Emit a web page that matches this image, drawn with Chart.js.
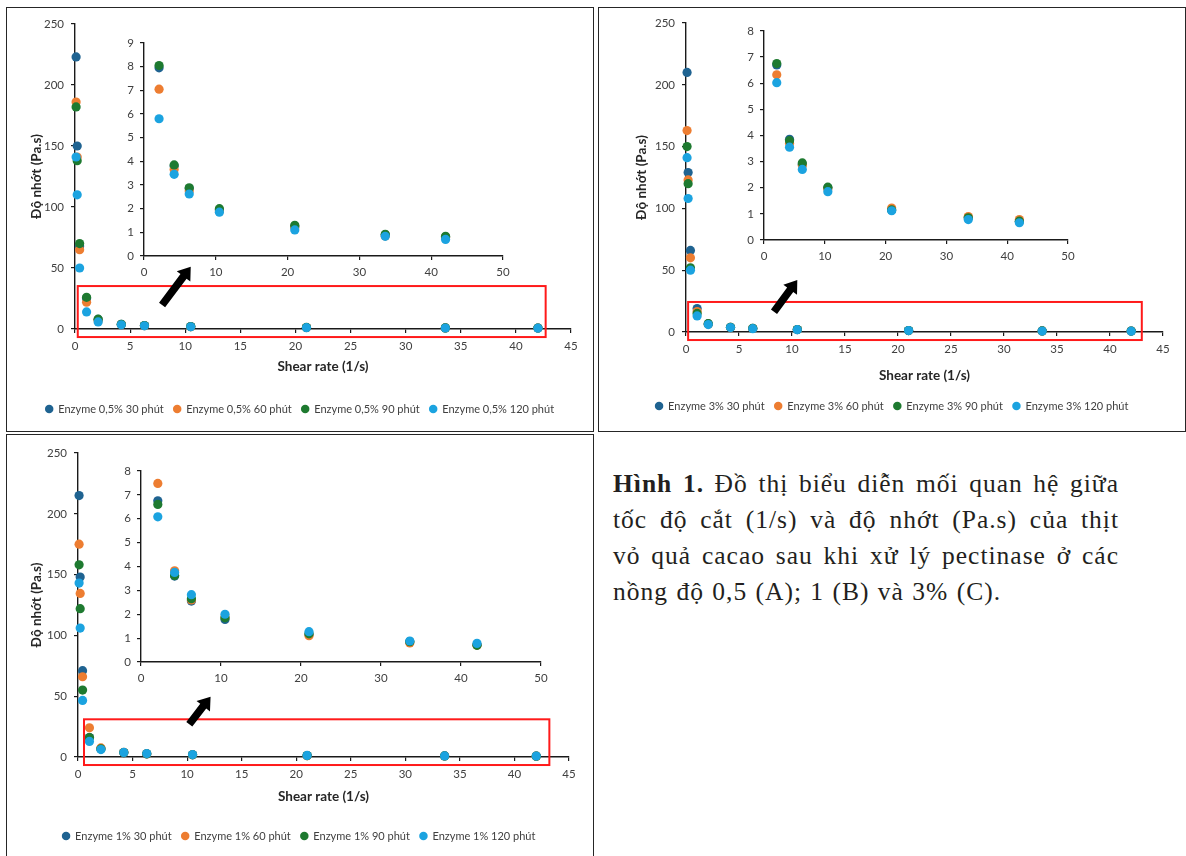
<!DOCTYPE html>
<html>
<head>
<meta charset="utf-8">
<script src="https://cdn.jsdelivr.net/npm/chart.js@4.4.1/dist/chart.umd.min.js"></script>
<style>
  html, body { margin: 0; padding: 0; }
  body { width: 1186px; height: 856px; background: #fff; position: relative; overflow: hidden; }
  .panel { position: absolute; box-sizing: border-box; border: 1.6px solid #262626; }
  .wrap { position: absolute; }
  .wrap canvas { display: block; }
  .cap { position: absolute; left: 613px; top: 466px; width: 506px; font-family: "Liberation Serif", "DejaVu Serif", serif; font-size: 25.5px; line-height: 36px; letter-spacing: 1px; word-spacing: 1px; color: #231f20; }
  .cap .l { text-align: justify; text-align-last: justify; white-space: nowrap; }
  .cap .l.last { text-align: left; text-align-last: left; }
</style>
</head>
<body>
<div class="panel" style="left:6px;top:7px;width:588px;height:425px"></div>
<div class="panel" style="left:598px;top:7px;width:588px;height:425px"></div>
<div class="panel" style="left:6px;top:434px;width:588px;height:440px"></div>

<div class="wrap" style="left:8px;top:9px"><canvas id="mainA" width="584" height="421"></canvas></div>
<div class="wrap" style="left:600px;top:9px"><canvas id="mainB" width="584" height="421"></canvas></div>
<div class="wrap" style="left:8px;top:436px"><canvas id="mainC" width="584" height="420"></canvas></div>
<div class="wrap" style="left:110px;top:30px"><canvas id="insetA" width="420" height="250"></canvas></div>
<div class="wrap" style="left:730px;top:18px"><canvas id="insetB" width="370" height="250"></canvas></div>
<div class="wrap" style="left:107px;top:458px"><canvas id="insetC" width="460" height="230"></canvas></div>

<div class="cap">
  <div class="l"><b>Hình 1.</b> Đồ thị biểu diễn mối quan hệ giữa</div>
  <div class="l">tốc độ cắt (1/s) và độ nhớt (Pa.s) của thịt</div>
  <div class="l">vỏ quả cacao sau khi xử lý pectinase ở các</div>
  <div class="l last">nồng độ 0,5 (A); 1 (B) và 3% (C).</div>
</div>

<script>
// ---------------- DATA ----------------
const shearRate = [0.1, 0.2, 0.42, 1.05, 2.1, 4.2, 6.3, 10.5, 21, 33.6, 42];

// Panel A: Enzyme 0,5%
const labelsA = ['Enzyme 0,5% 30 phút', 'Enzyme 0,5% 60 phút', 'Enzyme 0,5% 90 phút', 'Enzyme 0,5% 120 phút'];
const viscA_30  = [223, 150, 68, 25, 7.95, 3.8, 2.85, 1.95, 1.25, 0.9, 0.8];
const viscA_60  = [186, 141, 65, 22, 7.05, 3.65, 2.75, 1.9, 1.2, 0.85, 0.78];
const viscA_90  = [182, 138, 70, 26, 8.05, 3.85, 2.88, 2.0, 1.3, 0.92, 0.83];
const viscA_120 = [141, 110, 50, 14, 5.8, 3.45, 2.62, 1.85, 1.1, 0.83, 0.7];

// Panel B: Enzyme 3%
const labelsB = ['Enzyme 3% 30 phút', 'Enzyme 3% 60 phút', 'Enzyme 3% 90 phút', 'Enzyme 3% 120 phút'];
const viscB_30  = [210, 129, 66, 19, 6.7, 3.85, 2.9, 2.0, 1.15, 0.85, 0.72];
const viscB_60  = [163, 123, 60, 16.5, 6.32, 3.7, 2.85, 1.95, 1.22, 0.9, 0.78];
const viscB_90  = [150, 120, 52, 15, 6.75, 3.8, 2.95, 2.02, 1.15, 0.85, 0.72];
const viscB_120 = [141, 108, 50, 13, 6.02, 3.55, 2.7, 1.85, 1.12, 0.78, 0.66];

// Panel C: Enzyme 1%
const labelsC = ['Enzyme 1% 30 phút', 'Enzyme 1% 60 phút', 'Enzyme 1% 90 phút', 'Enzyme 1% 120 phút'];
const viscC_30  = [215, 148, 71, 16, 6.75, 3.6, 2.55, 1.78, 1.15, 0.85, 0.72];
const viscC_60  = [175, 134.5, 66, 24, 7.48, 3.82, 2.6, 1.88, 1.1, 0.8, 0.7];
const viscC_90  = [158, 122, 55, 16, 6.6, 3.62, 2.65, 1.85, 1.18, 0.85, 0.7];
const viscC_120 = [143, 106, 46.5, 12.8, 6.08, 3.75, 2.82, 2.0, 1.27, 0.88, 0.78];

// axis ticks
const mainXTicks = { min: 0, max: 45, step: 5 };
const mainYTicks = { min: 0, max: 250, step: 50 };
const insetXTicks = { min: 0, max: 50, step: 10 };
const insetYMaxA = 9, insetYMaxB = 8, insetYMaxC = 8;
const insetMinShear = 2;

const xTitle = 'Shear rate (1/s)';
const yTitle = 'Độ nhớt (Pa.s)';

// ---------------- STYLE / LAYOUT ----------------
const seriesColors = ['#1F6391', '#ED7D31', '#1E7A30', '#1BA3E0'];
const tickFont = { family: 'Lato', size: 11.5 };
const titleFont = { family: 'Lato', size: 13.5, weight: 'bold' };
const textColor = '#404040';
const axisColor = '#1a1a1a';

// zoom box and arrow annotations, in data units of each main chart
const marksA = { box: { x0: 0.25, x1: 42.7, y0: -6.6, y1: 35.2 }, arrow: { x0: 7.9, y0: 19.7, x1: 10.5, y1: 51 } };
const marksB = { box: { x0: 0.2, x1: 43.0, y0: -6.5, y1: 24.3 }, arrow: { x0: 8.3, y0: 16.4, x1: 10.5, y1: 42 } };
const marksC = { box: { x0: 0.55, x1: 43.2, y0: -6.6, y1: 31 }, arrow: { x0: 10.2, y0: 26.9, x1: 12.15, y1: 49.6 } };

const layoutA = { H: 421, W: 584, L: 67, T: 15, R: 563, B: 320, pl: 20.8, yTitleX: 28, legendY: 400, xTitleY: 358 };
const layoutB = { H: 421, W: 584, L: 86, T: 14, R: 563, B: 323, pl: 21, yTitleX: 41.7, legendY: 397, xTitleY: 367 };
const layoutC = { H: 420, W: 584, L: 70, T: 17, R: 561, B: 321, pl: 21, yTitleX: 29, legendY: 400, xTitleY: 361 };

const insetLayoutA = { W: 420, H: 250, L: 34, T: 13, R: 393, B: 226 };
const insetLayoutB = { W: 370, H: 250, L: 34, T: 11, R: 338, B: 222 };
const insetLayoutC = { W: 460, H: 230, L: 34, T: 13, R: 434, B: 204 };

// ---------------- BUILD ----------------
function buildDatasets(labels, series, minX) {
  return series.map((vals, k) => ({
    label: labels[k],
    data: shearRate.map((x, i) => ({ x: x, y: vals[i] })).filter(p => p.x >= minX),
    backgroundColor: seriesColors[k],
    borderColor: seriesColors[k],
    borderWidth: 0,
    pointRadius: 4.6,
    pointHoverRadius: 4.6,
    pointStyle: 'circle',
    order: series.length - 1 - k,
    clip: false
  }));
}

const marksPlugin = {
  id: 'marks',
  afterDraw(chart, args, opts) {
    const ctx = chart.ctx, xs = chart.scales.x, ys = chart.scales.y;
    if (opts && opts.box) {
      const b = opts.box;
      const x0 = xs.getPixelForValue(b.x0), x1 = xs.getPixelForValue(b.x1);
      const y0 = ys.getPixelForValue(b.y0), y1 = ys.getPixelForValue(b.y1);
      ctx.save();
      ctx.strokeStyle = '#FF1A1A';
      ctx.lineWidth = 2;
      ctx.strokeRect(x0, y1, x1 - x0, y0 - y1);
      ctx.restore();
    }
    if (opts && opts.arrow) {
      const a = opts.arrow;
      const tx = xs.getPixelForValue(a.x0), ty = ys.getPixelForValue(a.y0);
      const hx = xs.getPixelForValue(a.x1), hy = ys.getPixelForValue(a.y1);
      const dx = hx - tx, dy = hy - ty, len = Math.hypot(dx, dy);
      const ux = dx / len, uy = dy / len, nx = -uy, ny = ux;
      const shaft = 3.8, headW = 8.5, headL = 12;
      const bx = hx - ux * headL, by = hy - uy * headL;
      ctx.save();
      ctx.fillStyle = '#000';
      ctx.beginPath();
      ctx.moveTo(tx + nx * shaft, ty + ny * shaft);
      ctx.lineTo(bx + nx * shaft, by + ny * shaft);
      ctx.lineTo(bx + nx * headW, by + ny * headW);
      ctx.lineTo(hx, hy);
      ctx.lineTo(bx - nx * headW, by - ny * headW);
      ctx.lineTo(bx - nx * shaft, by - ny * shaft);
      ctx.lineTo(tx - nx * shaft, ty - ny * shaft);
      ctx.closePath();
      ctx.fill();
      ctx.restore();
    }
  }
};

function axisCommon() {
  return {
    type: 'linear',
    grid: { drawOnChartArea: false, drawTicks: true, tickLength: 4, color: axisColor, lineWidth: 1.2 },
    border: { display: true, color: axisColor, width: 1.4 }
  };
}

function makeMain(id, labels, series, g, marks) {
  const pr = g.W - g.R;
  const legendFont = 11, legendPad = 10;
  const pb = g.H - 10 - legendFont / 2 - g.legendY;
  const LH = legendFont + legendPad + 10;
  const XH = g.H - pb - LH - g.B;
  const titleLH = titleFont.size * 1.2;
  const xTitlePadB = g.B + XH - titleLH / 2 - g.xTitleY;
  const yTitlePadT = Math.max(0, g.yTitleX - g.pl - titleLH / 2);
  const yW = g.L - g.pl;

  const xAxis = Object.assign(axisCommon(), {
    min: mainXTicks.min, max: mainXTicks.max,
    ticks: { stepSize: mainXTicks.step, font: tickFont, color: textColor, padding: 6 },
    title: { display: true, text: xTitle, font: titleFont, color: '#262626', padding: { top: 0, bottom: xTitlePadB } },
    afterFit(s) { s.height = XH; }
  });
  const yAxis = Object.assign(axisCommon(), {
    min: mainYTicks.min, max: mainYTicks.max,
    ticks: { stepSize: mainYTicks.step, font: tickFont, color: textColor, padding: 7 },
    title: { display: true, text: yTitle, font: titleFont, color: '#262626', padding: { top: yTitlePadT, bottom: 0 } },
    afterFit(s) { s.width = yW; }
  });

  return new Chart(document.getElementById(id), {
    type: 'scatter',
    data: { datasets: buildDatasets(labels, series, -Infinity) },
    options: {
      responsive: false, animation: false, devicePixelRatio: 1,
      layout: { padding: { left: g.pl, right: pr, top: g.T, bottom: pb } },
      scales: { x: xAxis, y: yAxis },
      plugins: {
        legend: {
          position: 'bottom',
          labels: {
            usePointStyle: true, pointStyle: 'circle', boxWidth: 7, boxHeight: 6,
            padding: legendPad, font: { family: 'Lato', size: legendFont }, color: textColor,
            sort: (a, b) => a.datasetIndex - b.datasetIndex
          }
        },
        tooltip: { enabled: false },
        marks: marks
      }
    },
    plugins: [marksPlugin]
  });
}

function makeInset(id, labels, series, g, yMax) {
  const XH = g.H - g.B;
  const xAxis = Object.assign(axisCommon(), {
    min: insetXTicks.min, max: insetXTicks.max,
    ticks: { stepSize: insetXTicks.step, font: tickFont, color: textColor, padding: 5 },
    afterFit(s) { s.height = XH; }
  });
  const yAxis = Object.assign(axisCommon(), {
    min: 0, max: yMax,
    ticks: { stepSize: 1, font: tickFont, color: textColor, padding: 6 },
    afterFit(s) { s.width = g.L; }
  });
  return new Chart(document.getElementById(id), {
    type: 'scatter',
    data: { datasets: buildDatasets(labels, series, insetMinShear) },
    options: {
      responsive: false, animation: false, devicePixelRatio: 1,
      layout: { padding: { left: 0, right: g.W - g.R, top: g.T, bottom: 0 } },
      scales: { x: xAxis, y: yAxis },
      plugins: { legend: { display: false }, tooltip: { enabled: false } }
    }
  });
}

const seriesA = [viscA_30, viscA_60, viscA_90, viscA_120];
const seriesB = [viscB_30, viscB_60, viscB_90, viscB_120];
const seriesC = [viscC_30, viscC_60, viscC_90, viscC_120];

makeMain('mainA', labelsA, seriesA, layoutA, marksA);
makeMain('mainB', labelsB, seriesB, layoutB, marksB);
makeMain('mainC', labelsC, seriesC, layoutC, marksC);
makeInset('insetA', labelsA, seriesA, insetLayoutA, insetYMaxA);
makeInset('insetB', labelsB, seriesB, insetLayoutB, insetYMaxB);
makeInset('insetC', labelsC, seriesC, insetLayoutC, insetYMaxC);
</script>
</body>
</html>
